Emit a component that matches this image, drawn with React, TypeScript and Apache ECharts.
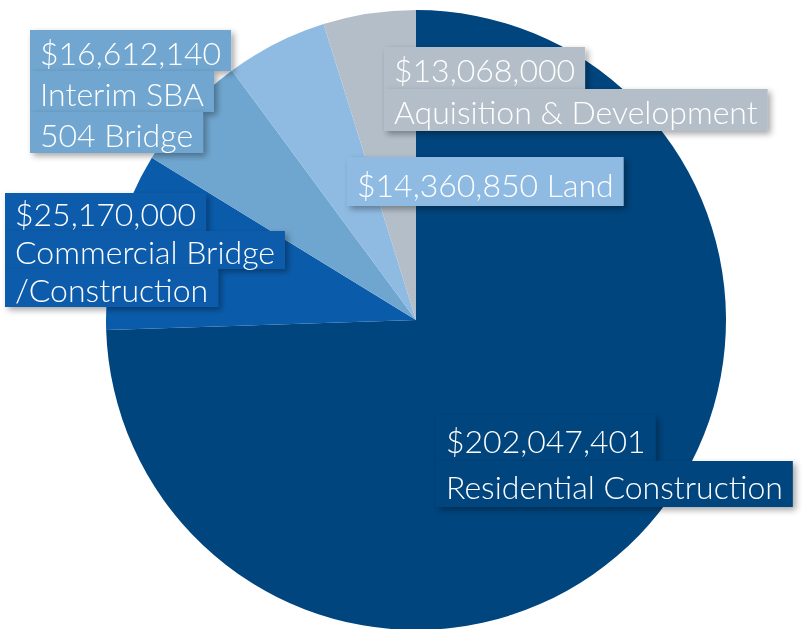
import React, { useEffect, useRef } from 'react';
import * as echarts from 'echarts';

const categories = [
  'Residential Construction',
  'Commercial Bridge /Construction',
  'Interim SBA 504 Bridge',
  'Land',
  'Aquisition & Development',
];
const values = [202047401, 25170000, 16612140, 14360850, 13068000];
const nameLines = [
  ['Residential Construction'],
  ['Commercial Bridge', '/Construction'],
  ['Interim SBA', '504 Bridge'],
  ['Land'],
  ['Aquisition & Development'],
];
const inlineName = [false, false, false, true, false];
const colors = ['#00457e', '#0a5cab', '#6fa6cf', '#8fbbe3', '#b3bec8'];
const labelPos = [
  [436, 415],
  [5, 193],
  [30, 30],
  [347, 157],
  [384, 47],
];
const boxHeights = [46, 38, 41, 49, 42];
const FS = 32;

const fmt = (v: number) => '$' + v.toLocaleString('en-US');

export default function App() {
  const ref = useRef<HTMLDivElement>(null);
  useEffect(() => {
    if (!ref.current) return;
    const chart = echarts.init(ref.current, undefined, { renderer: 'svg' });
    const data = values.map((v, i) => {
      const lines = inlineName[i]
        ? [fmt(v) + ' ' + nameLines[i].join(' ')]
        : [fmt(v), ...nameLines[i]];
      const extra = boxHeights[i] - FS;
      const pt = Math.ceil(extra * 0.6);
      const pb = extra - pt;
      return {
        name: categories[i],
        value: v,
        itemStyle: { color: colors[i] },
        label: {
          formatter: lines.map((l) => `{b|${l}}`).join('\n'),
          rich: {
            b: {
              fontFamily: 'Lato',
              fontWeight: 300,
              fontSize: FS,
              color: '#ffffff',
              height: FS,
              backgroundColor: colors[i],
              padding: [pt, 10, pb, 10],
              shadowColor: 'rgba(0,0,0,0.35)',
              shadowBlur: 6,
              shadowOffsetX: 3,
              shadowOffsetY: 3,
            },
          },
        },
      };
    });
    chart.setOption({
      animation: false,
      series: [
        {
          type: 'pie',
          center: [416, 320],
          radius: [0, 310],
          startAngle: 90,
          clockwise: true,
          data,
          label: { show: true, position: 'inside' },
          labelLine: { show: false },
          emphasis: { disabled: true },
          labelLayout: (params: any) => ({
            x: labelPos[params.dataIndex][0],
            y: labelPos[params.dataIndex][1],
            align: 'left',
            verticalAlign: 'top',
          }),
        },
      ],
    });
    return () => chart.dispose();
  }, []);
  return (
    <div
      ref={ref}
      style={{ position: 'fixed', left: 0, top: 0, width: 804, height: 629 }}
    />
  );
}
